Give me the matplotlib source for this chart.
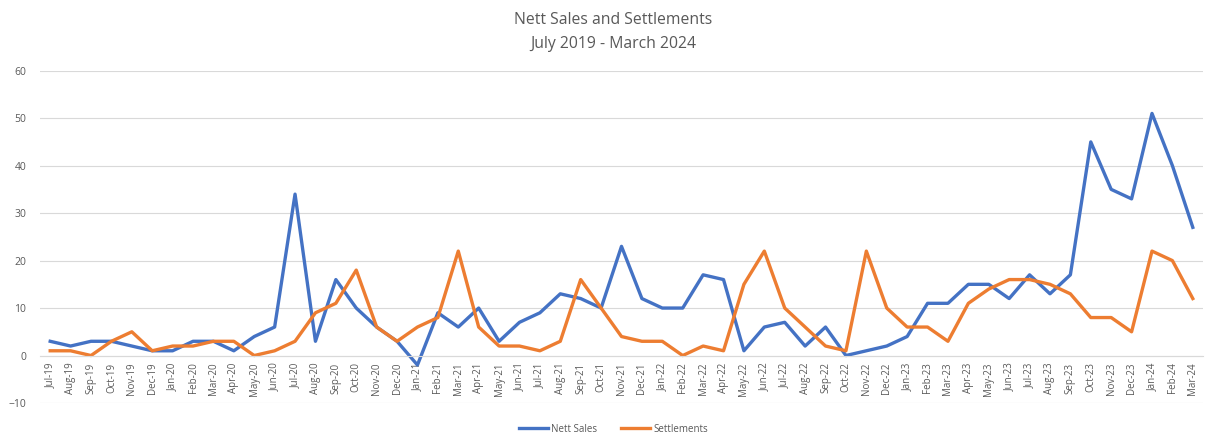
import matplotlib.pyplot as plt

plt.rcParams['font.family'] = ['Open Sans', 'DejaVu Sans']

# monthly figures, Jul 2019 - Mar 2024
months = ['Jul-19', 'Aug-19', 'Sep-19', 'Oct-19', 'Nov-19', 'Dec-19',
          'Jan-20', 'Feb-20', 'Mar-20', 'Apr-20', 'May-20', 'Jun-20',
          'Jul-20', 'Aug-20', 'Sep-20', 'Oct-20', 'Nov-20', 'Dec-20',
          'Jan-21', 'Feb-21', 'Mar-21', 'Apr-21', 'May-21', 'Jun-21',
          'Jul-21', 'Aug-21', 'Sep-21', 'Oct-21', 'Nov-21', 'Dec-21',
          'Jan-22', 'Feb-22', 'Mar-22', 'Apr-22', 'May-22', 'Jun-22',
          'Jul-22', 'Aug-22', 'Sep-22', 'Oct-22', 'Nov-22', 'Dec-22',
          'Jan-23', 'Feb-23', 'Mar-23', 'Apr-23', 'May-23', 'Jun-23',
          'Jul-23', 'Aug-23', 'Sep-23', 'Oct-23', 'Nov-23', 'Dec-23',
          'Jan-24', 'Feb-24', 'Mar-24']

nett_sales = [3, 2, 3, 3, 2, 1,
              1, 3, 3, 1, 4, 6,
              34, 3, 16, 10, 6, 3,
              -2, 9, 6, 10, 3, 7,
              9, 13, 12, 10, 23, 12,
              10, 10, 17, 16, 1, 6,
              7, 2, 6, 0, 1, 2,
              4, 11, 11, 15, 15, 12,
              17, 13, 17, 45, 35, 33,
              51, 40, 27]

settlements = [1, 1, 0, 3, 5, 1,
               2, 2, 3, 3, 0, 1,
               3, 9, 11, 18, 6, 3,
               6, 8, 22, 6, 2, 2,
               1, 3, 16, 10, 4, 3,
               3, 0, 2, 1, 15, 22,
               10, 6, 2, 1, 22, 10,
               6, 6, 3, 11, 14, 16,
               16, 15, 13, 8, 8, 5,
               22, 20, 12]

text_col = '#595959'
grid_col = '#d9d9d9'

fig = plt.figure(figsize=(12.05, 4.36), dpi=100)
ax = fig.add_axes([40 / 1205, 1 - 403 / 436, 1163 / 1205, (403 - 70.7) / 436])

x = range(len(months))
ax.plot(x, nett_sales, color='#4472C4', lw=2.4, label='Nett Sales', solid_joinstyle='round')
ax.plot(x, settlements, color='#ED7D31', lw=2.4, label='Settlements', solid_joinstyle='round')

ax.set_xlim(-0.5, len(months) - 0.5)
ax.set_ylim(-10, 60)
ax.set_yticks(range(-10, 61, 10))
ax.grid(axis='y', color=grid_col, lw=0.8)
ax.set_axisbelow(True)

# category axis crosses at zero, labels hang into the negative band
for side in ['top', 'right', 'left']:
    ax.spines[side].set_visible(False)
ax.spines['bottom'].set_position(('data', 0))
ax.spines['bottom'].set_color(grid_col)
ax.set_xticks(list(x))
ax.set_xticklabels(months, rotation=90, fontsize=7, color=text_col)
ax.tick_params(axis='x', length=0, pad=5)
ax.tick_params(axis='y', length=0, labelsize=7.5, labelcolor=text_col, pad=10)

fig.text(0.509, 1 - 20 / 436, 'Nett Sales and Settlements', ha='center', va='center',
         fontsize=11.3, color=text_col)
fig.text(0.509, 1 - 44 / 436, 'July 2019 - March 2024', ha='center', va='center',
         fontsize=11.3, color=text_col)

fig.legend(loc='center', bbox_to_anchor=(0.509, 1 - 429 / 436), ncol=2, frameon=False,
           fontsize=7, labelcolor=text_col, handlelength=3, columnspacing=2.5,
           handletextpad=0.3)

fig.savefig('out.png', dpi=100)
